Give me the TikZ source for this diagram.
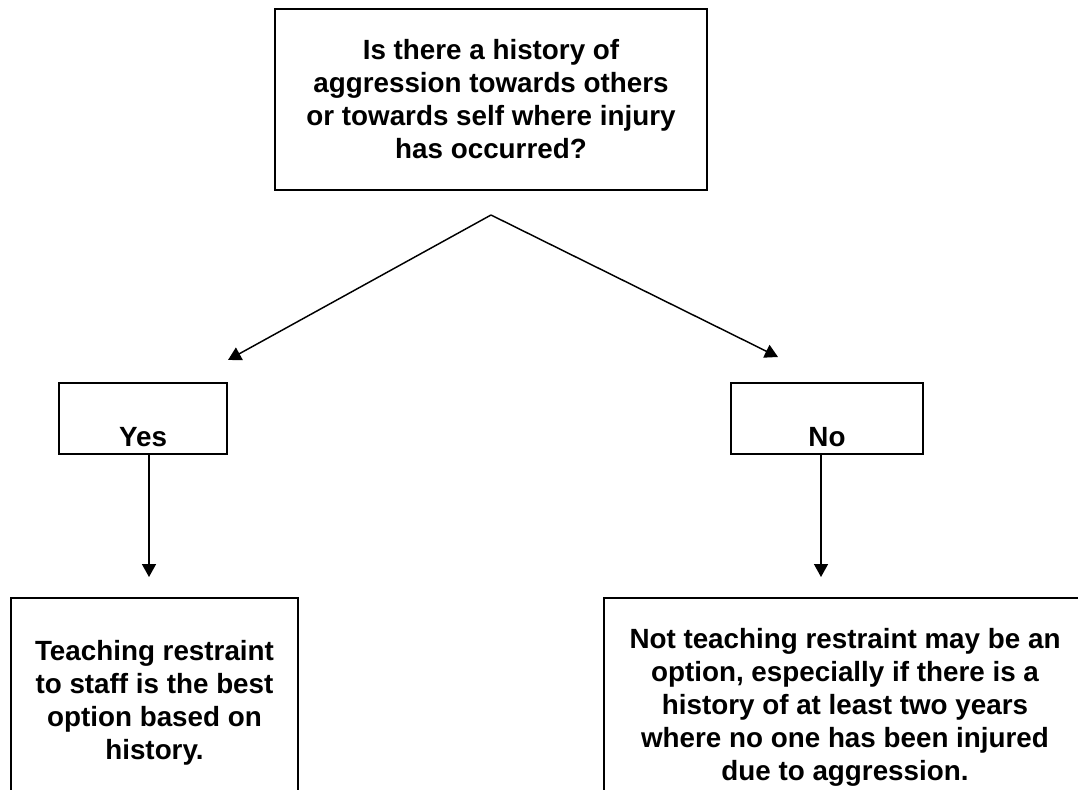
\documentclass[tikz,border=0pt]{standalone}
\usepackage{fontspec}
\setmainfont{Liberation Sans}
\usepackage{tikz}
\usetikzlibrary{arrows.meta,positioning}
\tikzset{
  block/.style={rectangle, draw=black, line width=1.5pt, align=center,
                inner sep=0pt, font=\fontsize{20.85}{24.75}\selectfont\bfseries},
  flow/.style={-{Triangle[length=9.75pt, width=10.5pt]}, draw=black, line width=1.1pt},
}
\begin{document}
\begin{tikzpicture}[x=0.75pt, y=-0.75pt]
    \useasboundingbox (0,0) rectangle (1078,789);
    \clip (0,0) rectangle (1078,789);
    % question and the two answers
    \node[block, minimum width=324pt, minimum height=135.75pt] (question) at (491,99.5)
      {Is there a history of\\aggression towards others\\or towards self where injury\\has occurred?};
    \node[block, minimum width=126pt, minimum height=53.25pt] (yes) at (143,418.5) {\strut\\Yes};
    \node[block, minimum width=144pt, minimum height=53.25pt] (no) at (827,418.5) {\strut\\No};
    % outcomes, cut by the lower edge
    \node[block, minimum width=215.25pt, minimum height=156.75pt] (teach) at (154.5,702.5)
      {Teaching restraint\\to staff is the best\\option based on\\history.};
    \node[block, minimum width=361.5pt, minimum height=164.25pt] (noteach) at (845,707.5)
      {Not teaching restraint may be an\\option, especially if there is a\\history of at least two years\\where no one has been injured\\due to aggression.};
    % arrows
    \coordinate (split) at ([yshift=-18pt]question.south);
    \coordinate (yestip) at ([yshift=16.5pt]yes.north east);
    \coordinate (notip) at ([xshift=36pt, yshift=18.75pt]no.north west);
    \draw[flow] (split) -- (yestip);
    \draw[flow] (split) -- (notip);
    \coordinate (yesdrop) at (149,577);
    \coordinate (nodrop) at (821,577);
    \draw[flow] ([xshift=4.5pt]yes.south) -- (yesdrop);
    \draw[flow] ([xshift=-4.5pt]no.south) -- (nodrop);
\end{tikzpicture}
\end{document}
